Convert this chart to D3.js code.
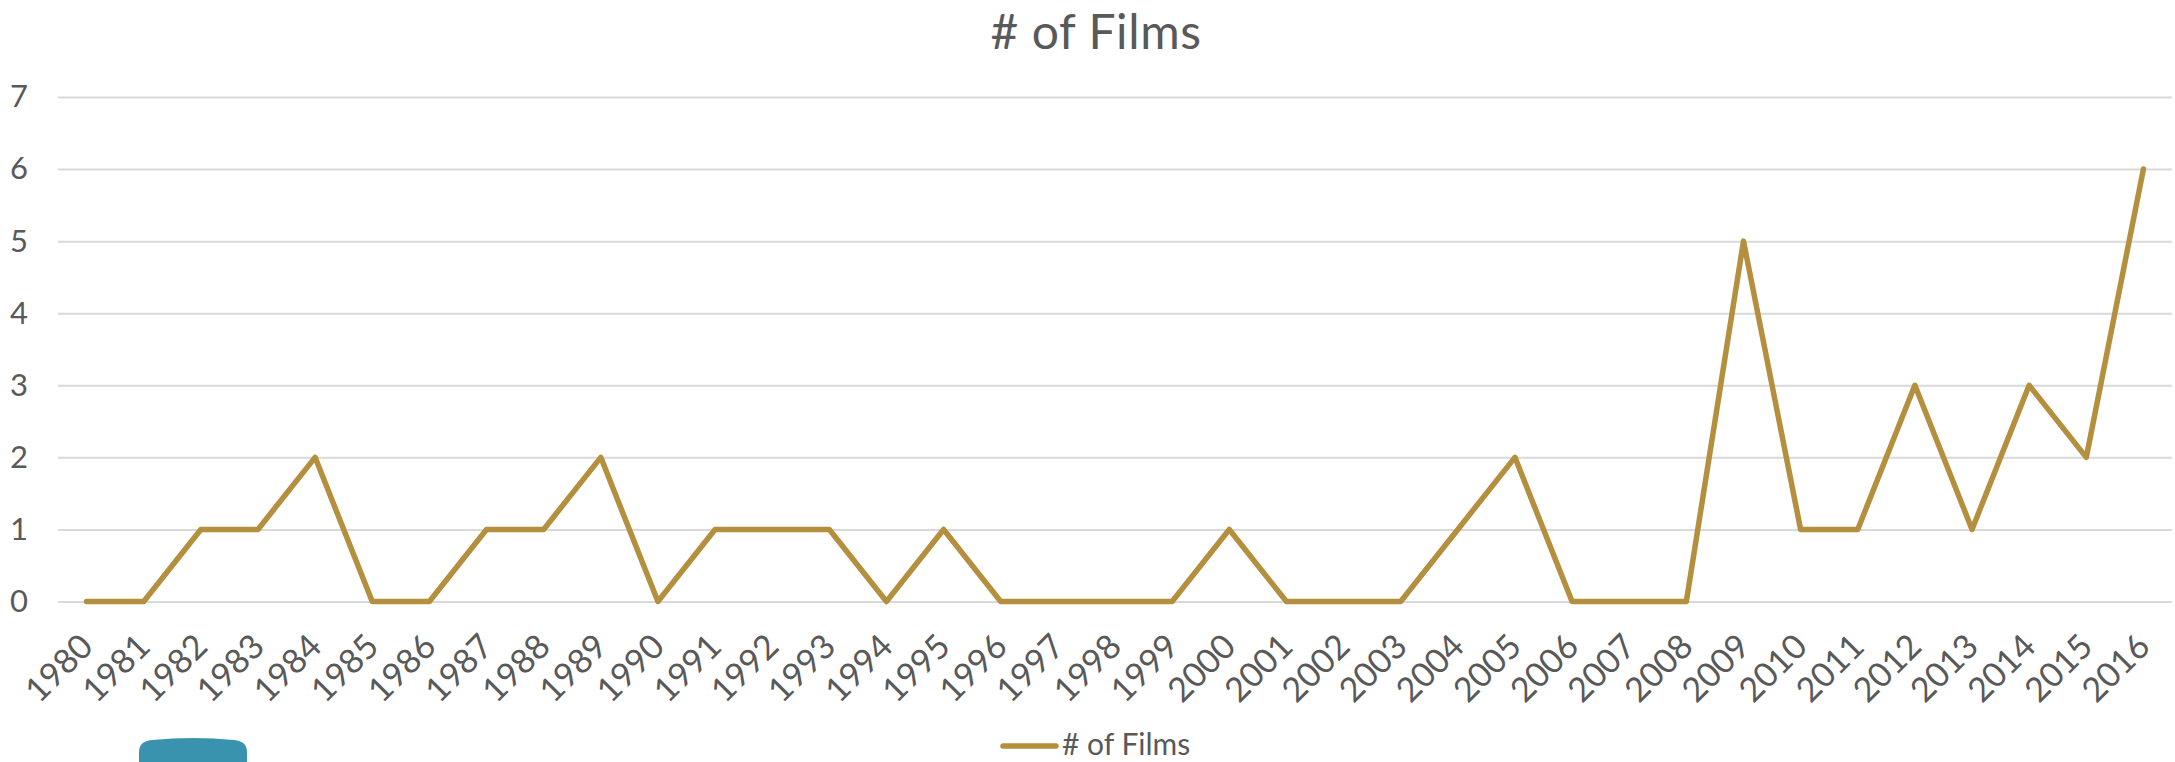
<!DOCTYPE html>
<html>
<head>
  <meta charset="UTF-8">
  <title># of Films</title>
  <style>
    body { margin: 0; background: #fff; }
    svg { display: block; font-family: Lato, "Open Sans", sans-serif; }
  </style>
</head>
<body>
  <svg width="2175" height="762"></svg>

  <script src="https://d3js.org/d3.v7.min.js"></script>
  <script>
    // data
    const years = ['1980','1981','1982','1983','1984','1985','1986','1987','1988','1989',
      '1990','1991','1992','1993','1994','1995','1996','1997','1998','1999',
      '2000','2001','2002','2003','2004','2005','2006','2007','2008','2009',
      '2010','2011','2012','2013','2014','2015','2016'];
    const films = [0,0,1,1,2,0,0,1,1,2, 0,1,1,1,0,1,0,0,0,0, 1,0,0,0,1,2,0,0,0,5, 1,1,3,1,3,2,6];
    const yTicks = [0,1,2,3,4,5,6,7];
    const seriesName = '# of Films';

    const textColor = '#595959';
    const lineColor = '#B48F3D';

    const svg = d3.select('svg');

    // plot area
    const plotLeft = 58, plotRight = 2172, plotTop = 97, plotBottom = 601.5;

    const xScale = d3.scalePoint().domain(years).range([plotLeft, plotRight]).padding(0.5);
    const yScale = d3.scaleLinear().domain([0, 7]).range([plotBottom, plotTop]);

    // title
    svg.append('text')
      .attr('x', 1096)
      .attr('y', 49)
      .attr('text-anchor', 'middle')
      .attr('font-size', '48px')
      .attr('letter-spacing', '0.6px')
      .attr('fill', textColor)
      .text(seriesName);

    // gridlines + y labels
    const yAxis = svg.append('g')
      .attr('transform', `translate(${plotLeft}, 0)`)
      .call(d3.axisLeft(yScale).tickValues(yTicks).tickFormat(d3.format('d'))
        .tickSize(-(plotRight - plotLeft)).tickPadding(0));
    yAxis.select('.domain').remove();
    yAxis.selectAll('.tick line').attr('stroke', '#D9D9D9').attr('stroke-width', 2);
    yAxis.selectAll('.tick text')
      .attr('x', -39)
      .attr('text-anchor', 'middle')
      .attr('font-size', '31px')
      .attr('font-family', 'Lato, sans-serif')
      .attr('fill', textColor);

    // x labels
    const xAxis = svg.append('g')
      .attr('transform', `translate(0, ${plotBottom})`)
      .call(d3.axisBottom(xScale).tickSize(0));
    xAxis.select('.domain').remove();
    xAxis.selectAll('.tick text')
      .attr('y', 0)
      .attr('dy', 0)
      .attr('text-anchor', 'end')
      .attr('transform', 'translate(8, 47) rotate(-45)')
      .attr('font-size', '34px')
      .attr('font-family', 'Lato, sans-serif')
      .attr('fill', textColor);

    // the line
    const line = d3.line()
      .x((d, i) => xScale(years[i]))
      .y(d => yScale(d));

    svg.append('path')
      .datum(films)
      .attr('fill', 'none')
      .attr('stroke', lineColor)
      .attr('stroke-width', 5.5)
      .attr('stroke-linejoin', 'round')
      .attr('stroke-linecap', 'round')
      .attr('d', line);

    // legend
    const legend = svg.append('g');
    legend.append('line')
      .attr('x1', 1003).attr('x2', 1056)
      .attr('y1', 746).attr('y2', 746)
      .attr('stroke', lineColor)
      .attr('stroke-width', 5.5)
      .attr('stroke-linecap', 'round');
    legend.append('text')
      .attr('x', 1062)
      .attr('y', 755)
      .attr('font-size', '30px')
      .attr('fill', textColor)
      .text(seriesName);

    // teal blob peeking in at the bottom left
    svg.append('path')
      .attr('d', 'M139,752 Q139,741 152,740 Q193,736 234,740 Q247,741 247,752 L247,780 L139,780 Z')
      .attr('fill', '#3A93AE');
  </script>
</body>
</html>
